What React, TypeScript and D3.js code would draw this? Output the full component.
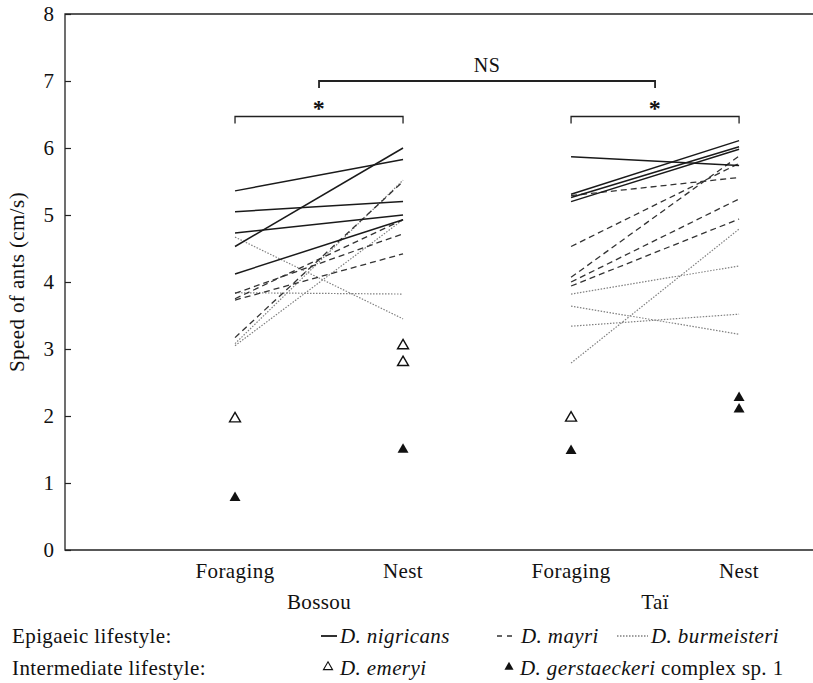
import * as d3 from 'd3';
import React, {useEffect, useRef} from 'react';

// x positions: 1 = Bossou foraging, 2 = Bossou nest, 3 = Taï foraging, 4 = Taï nest
const categories = ['Foraging', 'Nest', 'Foraging', 'Nest'];
const sites = ['Bossou', 'Taï'];
const yTicks = [0, 1, 2, 3, 4, 5, 6, 7, 8];

// [foraging, nest] speed per colony (cm/s)
const nigricansBossou = [[5.36, 5.83], [5.05, 5.20], [4.73, 5.00], [4.53, 6.00], [4.12, 4.93]];
const nigricansTai = [[5.87, 5.74], [5.31, 6.11], [5.26, 6.02], [5.20, 5.98]];
const mayriBossou = [[3.83, 4.72], [3.75, 4.93], [3.73, 4.42], [3.17, 5.50]];
const mayriTai = [[5.29, 5.56], [4.53, 5.77], [4.07, 5.88], [4.00, 5.24], [3.94, 4.94]];
const burmeisteriBossou = [[4.67, 3.45], [3.84, 3.82], [3.08, 5.52], [3.05, 4.93]];
const burmeisteriTai = [[3.82, 4.24], [3.64, 3.22], [3.34, 3.52], [2.79, 4.79]];

// single colonies, [position, speed]
const emeryi = [[1, 1.96], [2, 3.05], [2, 2.80], [3, 1.97]];
const gerstaeckeri = [[1, 0.78], [2, 1.50], [3, 1.48], [4, 2.27], [4, 2.10]];

// significance brackets: [from, to, level, label]
const brackets = [[1, 2, 6.47, '*'], [3, 4, 6.47, '*'], [1.5, 3.5, 7.0, 'NS']];

const FONT = '"Liberation Serif", "Times New Roman", serif';
const LS = '0.4px';

const App = () => {
    const ref = useRef(null);

    useEffect(() => {
        const width = 813;
        const svg = d3.select(ref.current);
        svg.selectAll('*').remove();

        const x = d3.scaleLinear().domain([0, 4.44]).range([67, 813]);
        const y = d3.scaleLinear().domain([0, 8]).range([550, 14]);

        const g = svg.append('g');

        // frame: left axis, top and bottom lines
        g.append('path')
            .attr('d', `M${width},${y(8)}H${x(0) - 2}V${y(0)}H${width}`)
            .attr('fill', 'none')
            .attr('stroke', '#222')
            .attr('stroke-width', 1.3);

        // y ticks point inwards
        const yAxis = d3.axisLeft(y)
            .tickValues(yTicks)
            .tickSize(-6)
            .tickPadding(11)
            .tickFormat(d3.format('d'));
        const ya = g.append('g')
            .attr('transform', `translate(${x(0) - 2},0)`)
            .call(yAxis);
        ya.select('.domain').remove();
        ya.selectAll('line').attr('stroke', '#222').attr('stroke-width', 1.2);
        ya.selectAll('text')
            .style('font-family', FONT)
            .style('font-size', '21px')
            .attr('fill', '#111');

        g.append('text')
            .attr('transform', `translate(24,${(y(0) + y(8)) / 2}) rotate(-90)`)
            .attr('text-anchor', 'middle')
            .style('font-family', FONT)
            .style('font-size', '21px')
            .style('letter-spacing', LS)
            .attr('fill', '#111')
            .text('Speed of ants (cm/s)');

        // category labels
        g.selectAll('.cat')
            .data(categories)
            .enter().append('text')
            .attr('x', (d, i) => x(i + 1))
            .attr('y', 578)
            .attr('text-anchor', 'middle')
            .style('font-family', FONT)
            .style('font-size', '21px')
            .style('letter-spacing', LS)
            .attr('fill', '#111')
            .text((d) => d);

        g.selectAll('.site')
            .data(sites)
            .enter().append('text')
            .attr('x', (d, i) => x(i * 2 + 1.5))
            .attr('y', 609)
            .attr('text-anchor', 'middle')
            .style('font-family', FONT)
            .style('font-size', '21px')
            .style('letter-spacing', LS)
            .attr('fill', '#111')
            .text((d) => d);

        // paired lines
        const styles = {
            nigricans: {stroke: '#1a1a1a', width: 1.5, dash: null},
            mayri: {stroke: '#333', width: 1.3, dash: '6,4'},
            burmeisteri: {stroke: '#808080', width: 1.2, dash: '1.5,1.5'},
        };
        const drawPairs = (pairs, start, style) => {
            g.append('g').selectAll('line')
                .data(pairs)
                .enter().append('line')
                .attr('x1', x(start))
                .attr('x2', x(start + 1))
                .attr('y1', (d) => y(d[0]))
                .attr('y2', (d) => y(d[1]))
                .attr('stroke', style.stroke)
                .attr('stroke-width', style.width)
                .attr('stroke-dasharray', style.dash);
        };
        drawPairs(burmeisteriBossou, 1, styles.burmeisteri);
        drawPairs(burmeisteriTai, 3, styles.burmeisteri);
        drawPairs(mayriBossou, 1, styles.mayri);
        drawPairs(mayriTai, 3, styles.mayri);
        drawPairs(nigricansBossou, 1, styles.nigricans);
        drawPairs(nigricansTai, 3, styles.nigricans);

        // triangles
        const tri = d3.symbol().type(d3.symbolTriangle).size(52);
        g.append('g').selectAll('path')
            .data(emeryi)
            .enter().append('path')
            .attr('d', tri)
            .attr('transform', (d) => `translate(${x(d[0])},${y(d[1])})`)
            .attr('fill', 'white')
            .attr('stroke', '#111')
            .attr('stroke-width', 1.4);
        g.append('g').selectAll('path')
            .data(gerstaeckeri)
            .enter().append('path')
            .attr('d', tri)
            .attr('transform', (d) => `translate(${x(d[0])},${y(d[1])})`)
            .attr('fill', '#111');

        // significance brackets
        brackets.forEach(([a, b, lvl, label]) => {
            const yy = y(lvl);
            g.append('path')
                .attr('d', `M${x(a)},${yy + 7}V${yy}H${x(b)}V${yy + 7}`)
                .attr('fill', 'none')
                .attr('stroke', '#222')
                .attr('stroke-width', label === 'NS' ? 1.8 : 1.3);
            g.append('text')
                .attr('x', (x(a) + x(b)) / 2)
                .attr('y', label === 'NS' ? yy - 9 : yy - 1)
                .attr('text-anchor', 'middle')
                .style('font-family', FONT)
                .style('font-size', label === 'NS' ? '20px' : '24px')
                .style('font-weight', label === 'NS' ? 'normal' : 'bold')
                .style('letter-spacing', LS)
                .attr('fill', '#111')
                .text(label);
        });

        // legend
        const leg = g.append('g')
            .style('font-family', FONT)
            .style('font-size', '21px')
            .style('letter-spacing', LS)
            .attr('fill', '#111');
        leg.append('text').attr('x', 12).attr('y', 643).text('Epigaeic lifestyle:');
        leg.append('text').attr('x', 12).attr('y', 675).text('Intermediate lifestyle:');

        const legLine = (x1, x2, style) => {
            leg.append('line')
                .attr('x1', x1).attr('x2', x2)
                .attr('y1', 636).attr('y2', 636)
                .attr('stroke', style.stroke)
                .attr('stroke-width', style.width + 0.3)
                .attr('stroke-dasharray', style.dash);
        };
        legLine(321, 337, styles.nigricans);
        leg.append('text').attr('x', 340).attr('y', 643).style('font-style', 'italic').text('D. nigricans');
        legLine(497, 514, {...styles.mayri, dash: '5,5'});
        leg.append('text').attr('x', 521).attr('y', 643).style('font-style', 'italic').text('D. mayri');
        legLine(617, 648, styles.burmeisteri);
        leg.append('text').attr('x', 651).attr('y', 643).style('font-style', 'italic').text('D. burmeisteri');

        const smallTri = d3.symbol().type(d3.symbolTriangle).size(36);
        leg.append('path').attr('d', smallTri)
            .attr('transform', 'translate(328,667)')
            .attr('fill', 'white').attr('stroke', '#111').attr('stroke-width', 1.1);
        leg.append('text').attr('x', 340).attr('y', 675).style('font-style', 'italic').text('D. emeryi');
        leg.append('path').attr('d', smallTri)
            .attr('transform', 'translate(509,667)')
            .attr('fill', '#111');
        const t = leg.append('text').attr('x', 520).attr('y', 675);
        t.append('tspan').style('font-style', 'italic').text('D. gerstaeckeri');
        t.append('tspan').text(' complex sp. 1');
    }, []);

    return (
        <svg ref={ref} width={813} height={683}
            style={{position: 'absolute', left: 0, top: 0, background: 'white'}} />
    );
};

export default App;
